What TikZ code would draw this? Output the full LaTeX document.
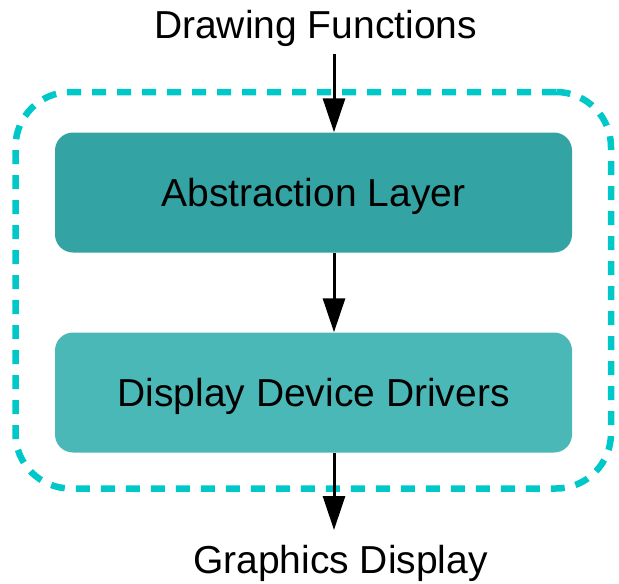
\documentclass[tikz,border=0pt]{standalone}
\usepackage{fontspec}
\setmainfont{Liberation Sans}
\usetikzlibrary{arrows.meta}

\definecolor{abscolor}{HTML}{34A3A3}
\definecolor{drvcolor}{HTML}{4BB8B8}
\definecolor{grpcolor}{HTML}{00C8C8}

\tikzstyle{layer}=[rectangle, rounded corners=18, minimum width=517,
                   minimum height=120, inner sep=0, text depth=0,
                   font=\fontsize{39}{46}\selectfont]
\tikzstyle{label}=[inner sep=0, font=\fontsize{39}{46}\selectfont]
\tikzstyle{flow}=[-{Triangle[length=34, width=22]}, line width=3]

\begin{document}
\begin{tikzpicture}[x=1pt, y=-1pt]
  \useasboundingbox (0, 0) rectangle (619, 584);

  \node (Group) at (313.25, 290.25) [rectangle, draw=grpcolor, line width=6.5,
        dash pattern=on 14 off 11, rounded corners=55,
        minimum width=595.5, minimum height=396.5] {};

  \node (Abstraction) at (313.5, 192.5) [layer, fill=abscolor] {Abstraction Layer};

  \node (Drivers) at (313.5, 392.5) [layer, fill=drvcolor] {Display Device Drivers};

  %%%%%%%%%%%%%%%%%%%%%%%%%%%%%%
  % inputs and outputs
  \node (Functions) at (315.5, 38) [label, anchor=base] {Drawing Functions};
  \node (Display) at (340.5, 573) [label, anchor=base] {Graphics Display};

  \coordinate (In) at (334, 54);
  \coordinate (Out) at (334, 530);

  \draw [flow] (In) to (In |- Abstraction.north);
  \draw [flow] (Abstraction.south -| In) to (Drivers.north -| In);
  \draw [flow] (Drivers.south -| In) to (Out);

\end{tikzpicture}
\end{document}
